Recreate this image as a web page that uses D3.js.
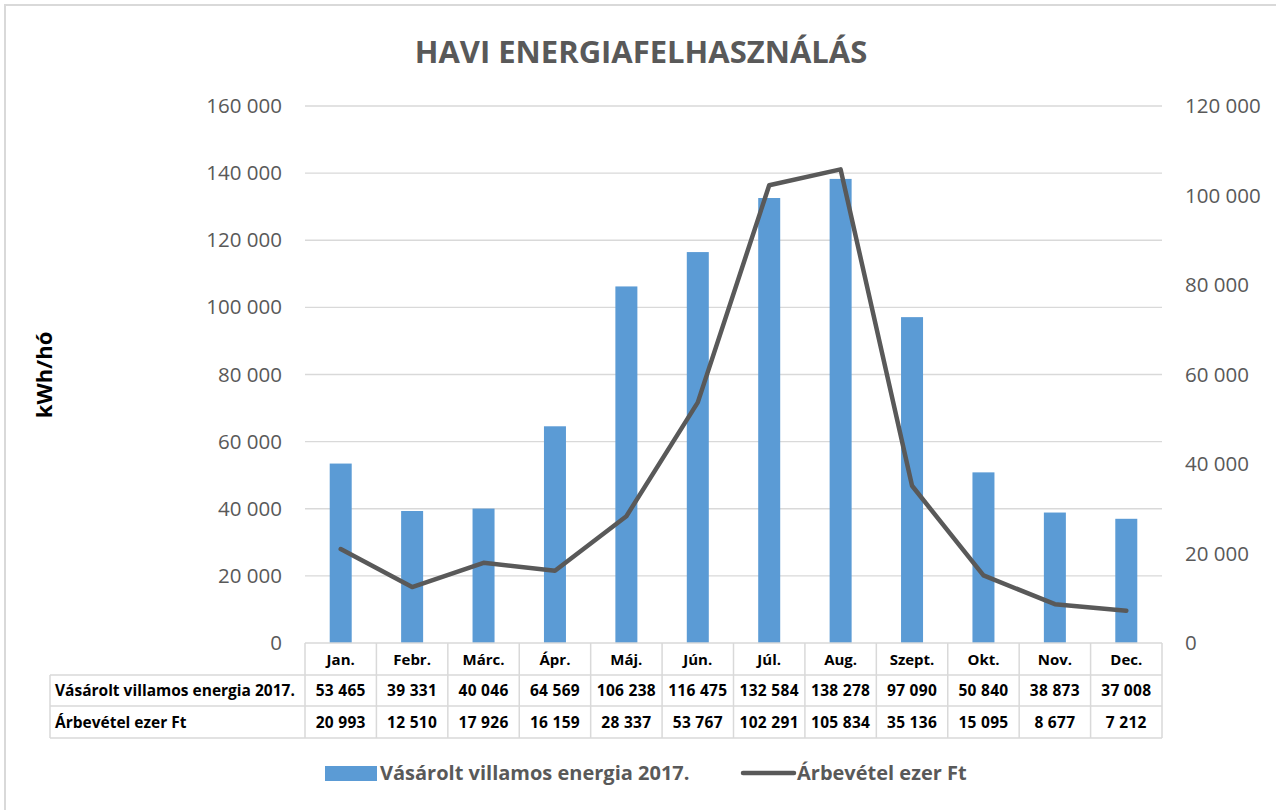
<!DOCTYPE html>
<html><head><meta charset="utf-8">
<script src="https://cdn.jsdelivr.net/npm/d3@7"></script>
<style>
html,body{margin:0;padding:0;background:#fff;}
svg{display:block;font-family:"Open Sans","Noto Sans",sans-serif;}
</style></head>
<body>
<svg id="c" width="1276" height="810"></svg>
<script>
const months = ["Jan.","Febr.","Márc.","Ápr.","Máj.","Jún.","Júl.","Aug.","Szept.","Okt.","Nov.","Dec."];
const energy = [53465,39331,40046,64569,106238,116475,132584,138278,97090,50840,38873,37008];
const revenue = [20993,12510,17926,16159,28337,53767,102291,105834,35136,15095,8677,7212];
const energyName = "Vásárolt villamos energia 2017.";
const revenueName = "Árbevétel ezer Ft";
const leftTicks = [0,20000,40000,60000,80000,100000,120000,140000,160000];
const rightTicks = [0,20000,40000,60000,80000,100000,120000];
const title = "HAVI ENERGIAFELHASZNÁLÁS";
const yTitle = "kWh/hó";

const FONT = '"Open Sans","Noto Sans",sans-serif';
const svg = d3.select("#c");
const L = 305, R = 1162, T = 106, B = 643;
const gray = "#595959", grid = "#d9d9d9", blue = "#5b9bd5";
const fmt = v => d3.format(",")(v).replace(/,/g, " ");

// chart border
svg.append("rect").attr("x",5).attr("y",5).attr("width",1300).attr("height",900)
  .attr("fill","none").attr("stroke",grid).attr("stroke-width",2);

svg.append("text").attr("x",641).attr("y",63).attr("text-anchor","middle")
  .attr("font-size",31).attr("font-weight","bold").attr("fill",gray).text(title);

const x = d3.scaleBand().domain(months).range([L,R]);
const yL = d3.scaleLinear().domain([0,160000]).range([B,T]);
const yR = d3.scaleLinear().domain([0,120000]).range([B,T]);

// gridlines
svg.append("g").selectAll("line").data(leftTicks.filter(d=>d>0)).join("line")
  .attr("x1",L).attr("x2",R).attr("y1",d=>yL(d)).attr("y2",d=>yL(d))
  .attr("stroke",grid).attr("stroke-width",1.3);

// left axis
const gl = svg.append("g").attr("transform",`translate(${L},0)`)
  .call(d3.axisLeft(yL).tickValues(leftTicks).tickFormat(fmt).tickSize(0).tickPadding(23));
gl.attr("font-family",FONT).attr("font-size",20.5);
gl.select(".domain").remove();
gl.selectAll("text").attr("fill",gray);

// right axis
const gr = svg.append("g").attr("transform",`translate(${R},0)`)
  .call(d3.axisRight(yR).tickValues(rightTicks).tickFormat(fmt).tickSize(0).tickPadding(23));
gr.attr("font-family",FONT).attr("font-size",20.5);
gr.select(".domain").remove();
gr.selectAll("text").attr("fill",gray);

// y title
svg.append("text").attr("transform","translate(52,375) rotate(-90)").attr("text-anchor","middle")
  .attr("font-size",22).attr("font-weight","bold").attr("fill","#000").text(yTitle);

// bars
const bw = 22;
svg.append("g").selectAll("rect").data(energy).join("rect")
  .attr("x",(d,i)=>x(months[i])+x.bandwidth()/2-bw/2).attr("width",bw)
  .attr("y",d=>yL(d)).attr("height",d=>B-yL(d)).attr("fill",blue);

// line
const line = d3.line().x((d,i)=>x(months[i])+x.bandwidth()/2).y(d=>yR(d));
svg.append("path").datum(revenue).attr("d",line).attr("fill","none")
  .attr("stroke",gray).attr("stroke-width",4.5).attr("stroke-linejoin","round").attr("stroke-linecap","round");

// data table
const rowH = [643,675,706,738];
const tb = svg.append("g");
const tLeft = 50;
tb.append("line").attr("x1",L).attr("x2",R).attr("y1",rowH[0]).attr("y2",rowH[0]).attr("stroke",grid).attr("stroke-width",1.5);
[1,2,3].forEach(k=>{
  tb.append("line").attr("x1",tLeft).attr("x2",R).attr("y1",rowH[k]).attr("y2",rowH[k]).attr("stroke",grid).attr("stroke-width",1.5);
});
tb.append("line").attr("x1",tLeft).attr("x2",tLeft).attr("y1",rowH[1]).attr("y2",rowH[3]).attr("stroke",grid).attr("stroke-width",1.5);
months.forEach((m,i)=>{
  const xx = x(m);
  tb.append("line").attr("x1",xx).attr("x2",xx).attr("y1",rowH[0]).attr("y2",rowH[3]).attr("stroke",grid).attr("stroke-width",1.5);
});
tb.append("line").attr("x1",R).attr("x2",R).attr("y1",rowH[0]).attr("y2",rowH[3]).attr("stroke",grid).attr("stroke-width",1.5);

const fs = 15.5;
const cy = k => (rowH[k]+rowH[k+1])/2 + 5.5;
tb.selectAll("text.h").data(months).join("text").attr("class","h")
  .attr("x",d=>x(d)+x.bandwidth()/2).attr("y",cy(0)).attr("text-anchor","middle")
  .attr("font-size",15).attr("font-weight","bold").attr("fill","#000").text(d=>d);
tb.selectAll("text.e").data(energy).join("text").attr("class","e")
  .attr("x",(d,i)=>x(months[i])+x.bandwidth()/2).attr("y",cy(1)).attr("text-anchor","middle")
  .attr("font-size",fs).attr("font-weight","bold").attr("fill","#000").attr("letter-spacing",0.3).text(d=>fmt(d));
tb.selectAll("text.r").data(revenue).join("text").attr("class","r")
  .attr("x",(d,i)=>x(months[i])+x.bandwidth()/2).attr("y",cy(2)).attr("text-anchor","middle")
  .attr("font-size",fs).attr("font-weight","bold").attr("fill","#000").attr("letter-spacing",0.3).text(d=>fmt(d));
tb.append("text").attr("x",tLeft+5).attr("y",cy(1)).attr("font-size",fs).attr("font-weight","bold").attr("fill","#000").text(energyName);
tb.append("text").attr("x",tLeft+5).attr("y",cy(2)).attr("font-size",fs).attr("font-weight","bold").attr("fill","#000").text(revenueName);

// legend
const lg = svg.append("g");
lg.append("rect").attr("x",325).attr("y",766).attr("width",52).attr("height",15).attr("fill",blue);
lg.append("text").attr("x",380).attr("y",780).attr("font-size",20).attr("font-weight","bold").attr("fill",gray).text(energyName);
lg.append("line").attr("x1",743).attr("x2",794).attr("y1",773).attr("y2",773).attr("stroke",gray).attr("stroke-width",4.5).attr("stroke-linecap","round");
lg.append("text").attr("x",797).attr("y",780).attr("font-size",20).attr("font-weight","bold").attr("fill",gray).text(revenueName);
</script>
</body></html>
